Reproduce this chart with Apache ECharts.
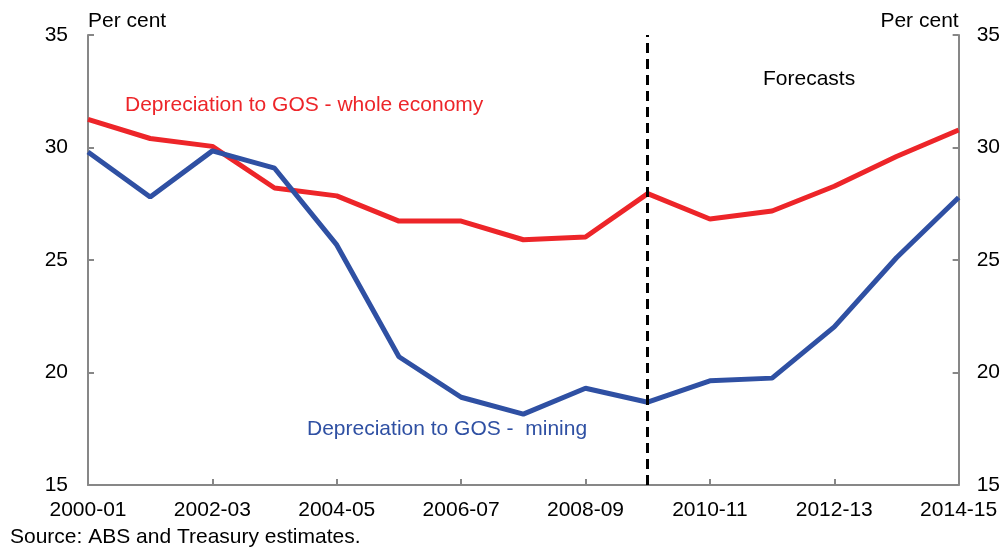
<!DOCTYPE html>
<html>
<head>
<meta charset="utf-8">
<script src="https://cdn.jsdelivr.net/npm/echarts@6/dist/echarts.min.js"></script>
<style>
  html, body { margin: 0; padding: 0; background: #fff; }
  #chart { width: 1003px; height: 551px; }
</style>
</head>
<body>
<div id="chart"></div>
<script>
// financial years
const years = ['2000-01', '2001-02', '2002-03', '2003-04', '2004-05', '2005-06', '2006-07', '2007-08',
  '2008-09', '2009-10', '2010-11', '2011-12', '2012-13', '2013-14', '2014-15'];
// depreciation to GOS, per cent
const wholeEconomy = [31.25, 30.4, 30.05, 28.2, 27.85, 26.73, 26.73, 25.9, 26.02, 27.95, 26.82, 27.18, 28.28, 29.6, 30.78];
const mining = [29.8, 27.8, 29.85, 29.08, 25.67, 20.7, 18.9, 18.15, 19.3, 18.68, 19.63, 19.75, 22.03, 25.1, 27.78];
const forecastStart = '2009-10';
const yTicks = { min: 15, max: 35, interval: 5 };

const font = 'Liberation Sans, Arial, sans-serif';
const fs = 21;
const axisGrey = '#878787';
const red = '#ED2529';
const blue = '#2F50A3';

const yAxisCommon = {
  type: 'value',
  min: yTicks.min,
  max: yTicks.max,
  interval: yTicks.interval,
  name: 'Per cent',
  nameLocation: 'end',
  nameGap: 3,
  splitLine: { show: false },
  axisLine: { show: true, lineStyle: { color: axisGrey, width: 2 } },
  axisTick: { show: true, inside: true, length: 6, lineStyle: { color: axisGrey, width: 2 } }
};

const option = {
  backgroundColor: '#fff',
  animation: false,
  grid: { left: 88, right: 43, top: 35, bottom: 66, containLabel: false },
  xAxis: {
    type: 'category',
    data: years,
    boundaryGap: false,
    axisLine: { lineStyle: { color: axisGrey, width: 2 } },
    axisTick: { inside: true, length: 6, interval: 1, lineStyle: { color: axisGrey, width: 2 } },
    axisLabel: { interval: 1, color: '#000', fontSize: fs, fontFamily: font, margin: 15 },
    splitLine: { show: false }
  },
  yAxis: [
    Object.assign({}, yAxisCommon, {
      position: 'left',
      axisLabel: { color: '#000', fontSize: fs, fontFamily: font, margin: 20 },
      nameTextStyle: { color: '#000', fontSize: fs, fontFamily: font, align: 'left' }
    }),
    Object.assign({}, yAxisCommon, {
      position: 'right',
      axisLabel: { color: '#000', fontSize: fs, fontFamily: font, margin: 18 },
      nameTextStyle: { color: '#000', fontSize: fs, fontFamily: font, align: 'right' }
    })
  ],
  series: [
    {
      name: 'Depreciation to GOS - whole economy',
      type: 'line',
      data: wholeEconomy,
      symbol: 'none',
      lineStyle: { color: red, width: 5 },
      z: 2,
      markLine: {
        silent: true,
        symbol: 'none',
        label: { show: false },
        lineStyle: { color: '#000', width: 3, type: [10, 6] },
        data: [{ xAxis: forecastStart }]
      }
    },
    {
      name: 'Depreciation to GOS -  mining',
      type: 'line',
      data: mining,
      symbol: 'none',
      lineStyle: { color: blue, width: 5 },
      z: 3
    }
  ],
  graphic: [
    { type: 'text', left: 125, top: 95, style: { text: 'Depreciation to GOS - whole economy', fill: red, font: fs + 'px ' + font } },
    { type: 'text', left: 307, top: 419, style: { text: 'Depreciation to GOS -  mining', fill: blue, font: fs + 'px ' + font } },
    { type: 'text', left: 763, top: 69, style: { text: 'Forecasts', fill: '#000', font: fs + 'px ' + font } },
    { type: 'text', left: 10, top: 527, style: { text: 'Source: ABS and Treasury estimates.', fill: '#000', font: fs + 'px ' + font } }
  ]
};

echarts.init(document.getElementById('chart')).setOption(option);
</script>
</body>
</html>
